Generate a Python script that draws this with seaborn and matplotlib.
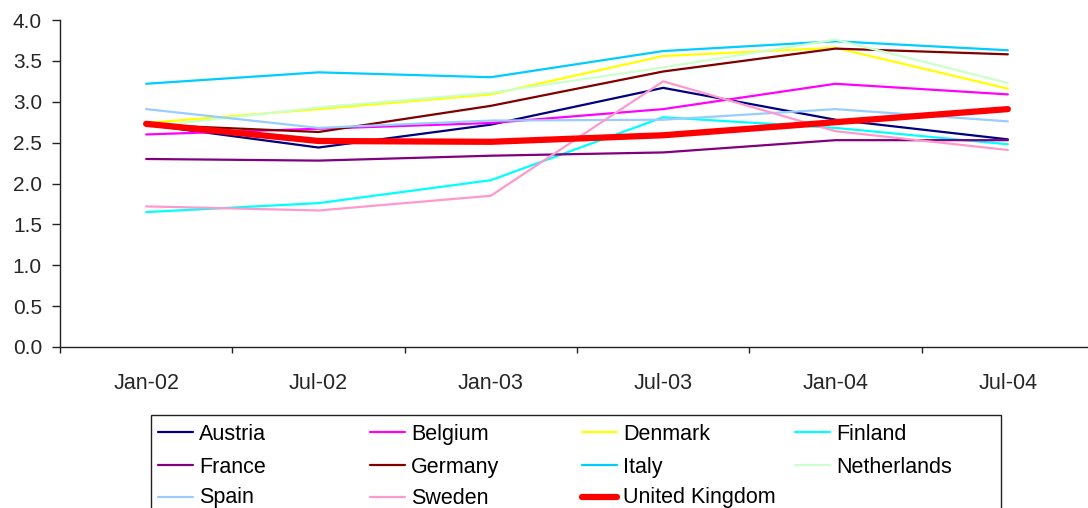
import numpy as np
import pandas as pd
import matplotlib
matplotlib.use("Agg")
import matplotlib.pyplot as plt
from matplotlib.lines import Line2D
from matplotlib.patches import Rectangle
import seaborn as sns

# Half-yearly observations
periods = ["Jan-02", "Jul-02", "Jan-03", "Jul-03", "Jan-04", "Jul-04"]

austria = [2.72, 2.44, 2.72, 3.17, 2.78, 2.54]
belgium = [2.60, 2.67, 2.74, 2.91, 3.22, 3.09]
denmark = [2.74, 2.91, 3.09, 3.56, 3.66, 3.16]
finland = [1.65, 1.76, 2.04, 2.81, 2.68, 2.48]
france = [2.30, 2.28, 2.34, 2.38, 2.53, 2.53]
germany = [2.72, 2.63, 2.95, 3.37, 3.65, 3.58]
italy = [3.22, 3.36, 3.30, 3.62, 3.74, 3.63]
netherlands = [2.69, 2.93, 3.11, 3.42, 3.76, 3.23]
spain = [2.91, 2.68, 2.77, 2.78, 2.91, 2.76]
sweden = [1.72, 1.67, 1.85, 3.25, 2.64, 2.41]
united_kingdom = [2.73, 2.52, 2.51, 2.59, 2.75, 2.91]

countries = ["Austria", "Belgium", "Denmark", "Finland", "France", "Germany",
             "Italy", "Netherlands", "Spain", "Sweden", "United Kingdom"]
series = [austria, belgium, denmark, finland, france, germany,
          italy, netherlands, spain, sweden, united_kingdom]

colors = {
    "Austria": "#000080", "Belgium": "#FF00FF", "Denmark": "#FFFF00",
    "Finland": "#00FFFF", "France": "#800080", "Germany": "#800000",
    "Italy": "#00CCFF", "Netherlands": "#CCFFCC", "Spain": "#99CCFF",
    "Sweden": "#FF99CC", "United Kingdom": "#FF0000",
}
widths = {c: 1.6 for c in countries}
widths["United Kingdom"] = 4.5

df = pd.DataFrame([
    {"country": c, "pos": i, "value": v}
    for c, vals in zip(countries, series)
    for i, v in enumerate(vals)
])

sns.set_theme(style="white")
plt.rcParams["font.family"] = ["Liberation Sans", "DejaVu Sans"]

W, H = 1088, 508
fig = plt.figure(figsize=(W / 100, H / 100), dpi=100)
ax = fig.add_axes([60 / W, (H - 347) / H, 1034 / W, 327 / H])

sns.lineplot(data=df, x="pos", y="value", hue="country", size="country",
             hue_order=countries, size_order=countries,
             palette=colors, sizes=widths, legend=False, ax=ax,
             errorbar=None, sort=False)

ax.set_xlim(-0.5, len(periods) - 0.5)
ax.set_ylim(0, 4.0)
ax.set_xlabel("")
ax.set_ylabel("")

# Category boundaries carry the tick marks, labels sit at the centres
ax.set_xticks(np.arange(-0.5, len(periods), 1.0))
ax.set_xticklabels([])
ax.set_xticks(np.arange(len(periods)), minor=True)
ax.set_xticklabels(periods, minor=True, fontsize=15.5)
ax.tick_params(axis="x", which="major", direction="out", length=4.5,
               width=1, color="#222222", bottom=True)
ax.tick_params(axis="x", which="minor", length=0, pad=19)

ax.set_yticks(np.arange(0, 4.01, 0.5))
ax.set_yticklabels([f"{v:.1f}" for v in np.arange(0, 4.01, 0.5)], fontsize=15)
ax.tick_params(axis="y", direction="out", length=6, width=1,
               color="#222222", left=True, pad=7)

for side in ("top", "right"):
    ax.spines[side].set_visible(False)
for side in ("left", "bottom"):
    ax.spines[side].set_color("#222222")
    ax.spines[side].set_linewidth(1)


def fx(x):
    return x / W


def fy(y):
    return 1 - y / H


# Legend box with four equal-width columns
fig.add_artist(Rectangle((fx(150.7), fy(530)), fx(1001) - fx(150.7),
                         fy(415) - fy(530), transform=fig.transFigure,
                         facecolor="white", edgecolor="#222222", lw=1,
                         clip_on=False))
col_x = [158, 370, 582, 795]
row_line_y = [432, 465, 496.5]
row_text_y = [440, 473, 503.5]
for k, c in enumerate(countries):
    r, col = divmod(k, 4)
    x0 = col_x[col]
    fig.add_artist(Line2D([fx(x0), fx(x0 + 35)], [fy(row_line_y[r])] * 2,
                          transform=fig.transFigure, color=colors[c],
                          lw=widths[c]))
    fig.text(fx(x0 + 41), fy(row_text_y[r]), c, fontsize=15.5,
             va="baseline", ha="left", color="black")

fig.savefig("out.png", dpi=100)
